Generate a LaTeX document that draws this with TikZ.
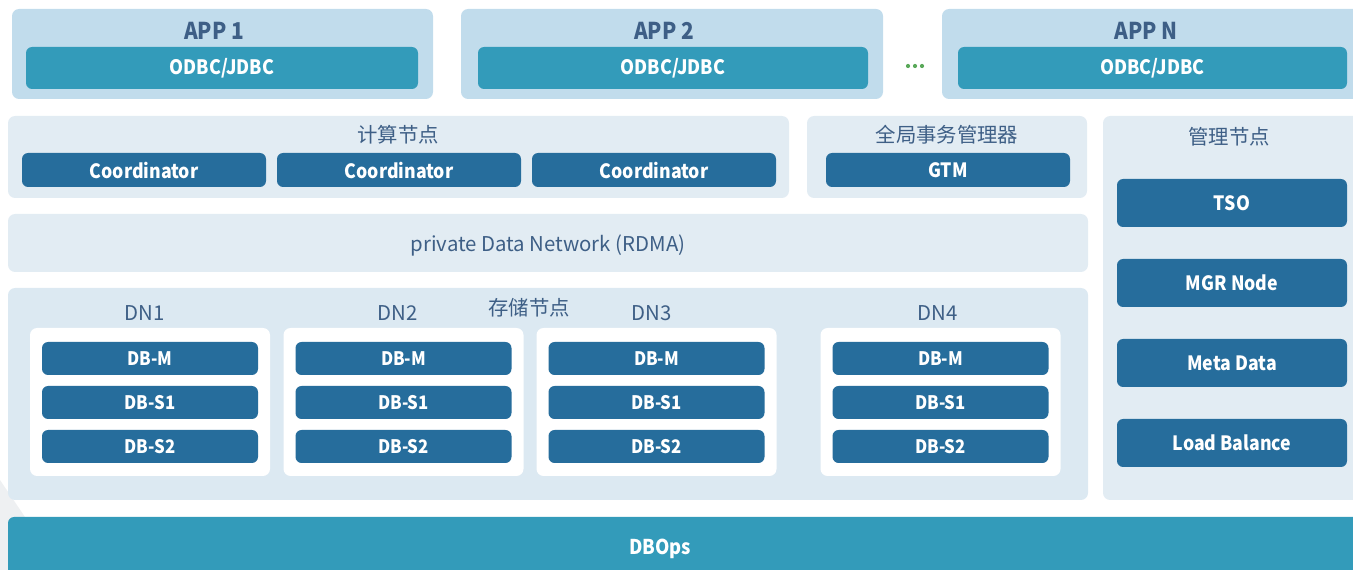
\documentclass[tikz,border=0pt]{standalone}
\usepackage{fontspec}
\setmainfont{Noto Sans CJK SC}[BoldFeatures={FakeStretch=0.9}]
\definecolor{appbg}{HTML}{C1DCEC}
\definecolor{tealb}{HTML}{339BBA}
\definecolor{darkb}{HTML}{266D9C}
\definecolor{secbg}{HTML}{E2ECF3}
\definecolor{storbg}{HTML}{DCE9F2}
\definecolor{ttlc}{HTML}{3E5F86}
\definecolor{dotc}{HTML}{5AA95A}
\definecolor{ghost}{HTML}{EEF0F2}
\tikzset{%
    pane/.style={rounded corners=4pt, inner sep=0pt},
    sz/.style 2 args={minimum width=#1*0.02cm, minimum height=#2*0.02cm},
    appb/.style={pane, fill=appbg},
    secb/.style={pane, fill=secbg},
    storb/.style={pane, fill=storbg},
    wht/.style={pane, fill=white},
    drv/.style={pane, rounded corners=3.5pt, fill=tealb, text=white, font=\fontsize{11.3}{13}\selectfont\bfseries},
    blu/.style={pane, rounded corners=3.5pt, fill=darkb, text=white, font=\fontsize{11.2}{13}\selectfont\bfseries},
    dbb/.style={blu, font=\fontsize{10.6}{12}\selectfont\bfseries},
    ttl/.style={text=ttlc, font=\fontsize{11.6}{13}\selectfont, yshift=-0.8pt},
    appt/.style={text=ttlc, font=\fontsize{13.2}{15}\selectfont\bfseries},
    lbl/.style={text=white, font=\fontsize{11.6}{13}\selectfont\bfseries},
}

\begin{document}
\begin{tikzpicture}[x=0.02cm, y=-0.02cm]
    \useasboundingbox (0,0) rectangle (1353,570);
    \fill[ghost] (0,480) -- (25,517) -- (8,570) -- (0,570) -- cycle;
    \node[appb, sz={421}{90}] (app1) at (222.5,54) {};
    \node[appb, sz={422}{90}] (app2) at (672,54) {};
    \node[appb, sz={431}{90}] (appn) at (1157.5,54) {};
    \node[appt] (app1t) at (214,31) {APP 1};
    \node[appt] (app2t) at (664,31) {APP 2};
    \node[appt] (appnt) at (1146,31) {APP N};
    \node[drv, sz={392}{42}] (odbc1) at (222,68) {ODBC/JDBC};
    \node[drv, sz={390}{42}] (odbc2) at (673,68) {ODBC/JDBC};
    \node[drv, sz={389}{42}] (odbcn) at (1152.5,68) {ODBC/JDBC};
    \foreach \x in {908,915,922} \fill[dotc] (\x,66) circle (1.2pt);
    \node[secb, sz={781}{82}] (cn) at (398.5,157) {};
    \node[ttl] (cnt) at (398,133) {计算节点};
    \node[blu, sz={244}{34}] (coord1) at (144,170) {Coordinator};
    \node[blu, sz={244}{34}] (coord2) at (399,170) {Coordinator};
    \node[blu, sz={244}{34}] (coord3) at (654,170) {Coordinator};
    \node[secb, sz={280}{82}] (gtmb) at (947,157) {};
    \node[ttl] (gtmt) at (947,133) {全局事务管理器};
    \node[blu, sz={244}{34}] (gtm) at (948,170) {GTM};
    \node[secb, sz={262}{384}] (mgr) at (1234,308) {};
    \node[ttl] (mgrt) at (1229,135) {管理节点};
    \node[blu, sz={230}{48}] (tso) at (1232,203) {TSO};
    \node[blu, sz={230}{48}] (mgrn) at (1232,283) {MGR Node};
    \node[blu, sz={230}{48}] (meta) at (1232,363) {Meta Data};
    \node[blu, sz={230}{48}] (lb) at (1232,443) {Load Balance};
    \node[secb, sz={1080}{58}] (net) at (548,243) {};
    \node[ttl] (nett) at (548,244) {private Data Network (RDMA)};
    \node[storb, sz={1080}{212}] (stor) at (548,394) {};
    \node[ttl] (stort) at (529,306) {存储节点};
    \foreach \i/\x/\l in {1/150/145, 2/403.5/398, 3/656.5/652, 4/940.5/938} {
        \node[ttl] (dnl\i) at (\l,312) {DN\i};
        \node[wht, sz={240}{148}] (dn\i) at (\x,402) {};
        \node[dbb, sz={216}{33}] (dn\i m) at (\x,358.5) {DB-M};
        \node[dbb, sz={216}{33}] (dn\i s1) at (\x,402.5) {DB-S1};
        \node[dbb, sz={216}{33}] (dn\i s2) at (\x,446.5) {DB-S2};
    }
    \node[drv, sz={1357}{63}] (dbops) at (686.5,548.5) {};
    \node[lbl] (dbopst) at (660,549) {DBOps};
\end{tikzpicture}
\end{document}
